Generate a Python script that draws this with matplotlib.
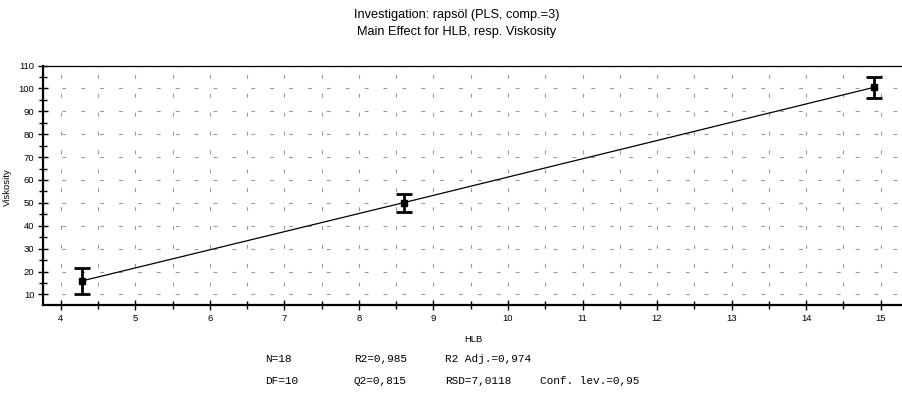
#imports
import matplotlib
matplotlib.use("Agg")
import matplotlib.pyplot as plt
from matplotlib.ticker import MultipleLocator

#data
hlb = [4.29, 8.60, 14.91]
viskosity = [15.95, 50.1, 100.5]
conf_err = [5.65, 3.95, 4.6]

#model statistics shown under the plot
stats_row1 = ["N=18", "R2=0,985", "R2 Adj.=0,974", ""]
stats_row2 = ["DF=10", "Q2=0,815", "RSD=7,0118", "Conf. lev.=0,95"]

plt.rcParams["font.family"] = ["Liberation Sans", "DejaVu Sans"]
plt.rcParams["lines.scale_dashes"] = False

fig = plt.figure(figsize=(9.03, 4.0), dpi=100)
ax = fig.add_axes([0.048, 0.238, 0.952, 0.598])

#dashed grey grid: every 0.5 on x, every 10 on y
for gx in [4 + 0.5 * i for i in range(23)]:
    ax.axvline(gx, color="#999999", lw=0.8, ls=(0, (2.8, 10.8)), zorder=0)
for gy in range(10, 111, 10):
    ax.axhline(gy, color="#999999", lw=0.8, ls=(0, (2.8, 10.8)), zorder=0)

#main effect line and confidence intervals
ax.plot(hlb, viskosity, color="black", lw=0.9, zorder=2)
ax.errorbar(hlb, viskosity, yerr=conf_err, fmt="s", color="black", ms=4.5,
            elinewidth=2.0, capsize=5.5, capthick=2.0, zorder=3)

ax.set_xlim(3.765, 15.3)
ax.set_ylim(5.45, 110)
ax.xaxis.set_major_locator(MultipleLocator(1))
ax.xaxis.set_minor_locator(MultipleLocator(0.5))
ax.yaxis.set_major_locator(MultipleLocator(10))
ax.yaxis.set_minor_locator(MultipleLocator(5))
ax.tick_params(which="both", direction="inout", labelsize=6.8, width=1.0, pad=3)
ax.tick_params(which="major", length=7)
ax.tick_params(which="minor", length=6)

ax.spines["right"].set_visible(False)
ax.spines["left"].set_linewidth(1.6)
ax.spines["bottom"].set_linewidth(1.6)
ax.spines["top"].set_linewidth(0.9)

ax.set_xlabel("HLB", fontsize=6.8)
ax.set_ylabel("Viskosity", fontsize=6.8)
ax.xaxis.set_label_coords(0.5, -0.128)
ax.yaxis.set_label_coords(-0.036, 0.49)

fig.text(0.5058, 0.962, "Investigation: rapsöl (PLS, comp.=3)", ha="center", va="center", fontsize=9.2)
fig.text(0.5058, 0.92, "Main Effect for HLB, resp. Viskosity", ha="center", va="center", fontsize=9.2)

#statistics block in a typewriter font
cols = [265, 354, 445, 540]
for i, (a, b) in enumerate(zip(stats_row1, stats_row2)):
    fig.text(cols[i] / 903, 1 - 359 / 400, a, family="Liberation Mono", fontsize=8, va="center")
    fig.text(cols[i] / 903, 1 - 380.5 / 400, b, family="Liberation Mono", fontsize=8, va="center")

plt.savefig("out.png", dpi=100)
